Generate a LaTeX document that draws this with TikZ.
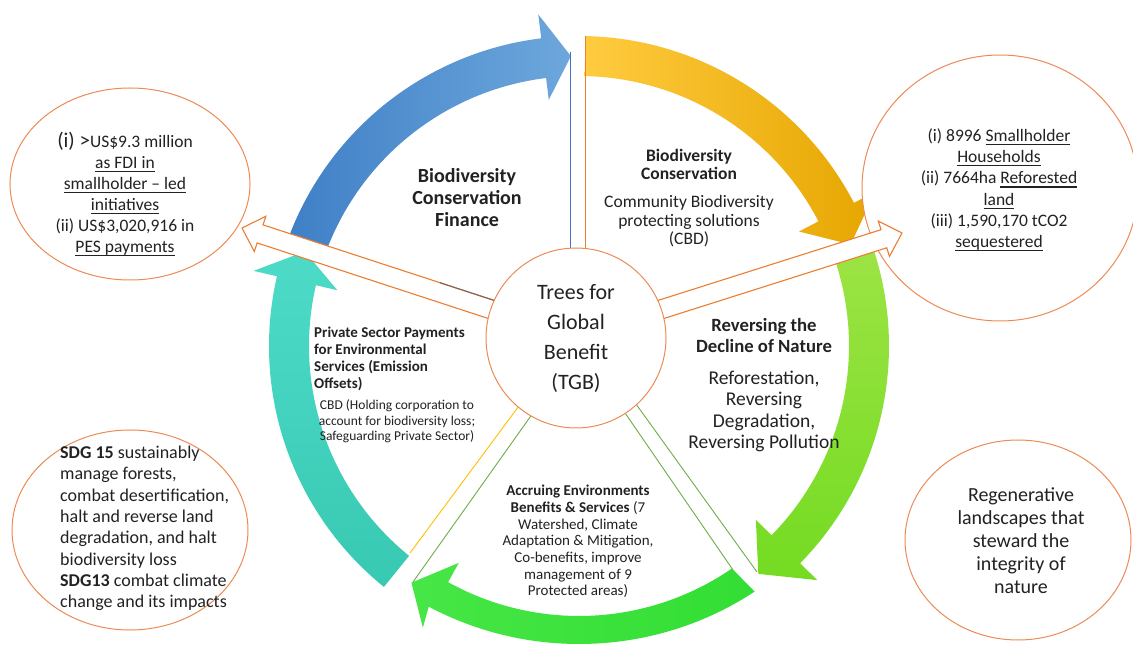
\documentclass[tikz,border=0pt]{standalone}
\usepackage{fontspec}
\setmainfont{Carlito}
\usetikzlibrary{shapes.geometric}

\definecolor{txt}{HTML}{222222}
\definecolor{edge}{HTML}{EC8B55}
\definecolor{blueD}{HTML}{3F7FC6}
\definecolor{blueL}{HTML}{6DA7DC}
\definecolor{goldL}{HTML}{FFCB40}
\definecolor{goldD}{HTML}{E6A600}
\definecolor{limeL}{HTML}{9EE445}
\definecolor{limeD}{HTML}{74DB22}
\definecolor{grnL}{HTML}{46E646}
\definecolor{grnD}{HTML}{33DE33}
\definecolor{tealL}{HTML}{4DDBC8}
\definecolor{tealD}{HTML}{38C9B2}
\definecolor{spokeBlue}{HTML}{4472C4}
\definecolor{spokeOrange}{HTML}{ED7D31}
\definecolor{spokeYellow}{HTML}{FFC000}
\definecolor{spokeGreen}{HTML}{70AD47}
\definecolor{seam}{HTML}{7A6A66}

% underlined word with a solid rule a little below the baseline
\newcommand{\uln}[1]{\setbox0\hbox{#1}\leavevmode\rlap{\rule[-3.6pt]{\wd0}{1.1pt}}\box0}

% curved band arrow on the ring: start angle, head base angle, tip angle, fill options
\newcommand{\ringarrow}[4]{%
  \path[#4] (#1:\Ro\space and \RoY) arc[start angle=#1, end angle=#2, x radius=\Ro, y radius=\RoY]
    -- (#2:\Hout) -- (#3:\Rm) -- (#2:\Hin) -- (#2:\Ri)
    arc[start angle=#2, end angle=#1, radius=\Ri] -- cycle;}

% straight block arrow, tip at the origin, pointing along +x
\newcommand{\blockarrow}{%
  \path[blockarrow] (0,0) -- (-19,18.5) -- (-19,9.5) -- (-290,9.5)
    -- (-290,-9.5) -- (-19,-9.5) -- (-19,-18.5) -- cycle;}

\tikzset{
  blockarrow/.style={draw=spokeOrange, line width=1.1pt, fill=white, line join=miter},
  bubble/.style={draw=edge, line width=1pt, fill=white, ellipse, inner sep=0pt},
  label/.style={text=txt, inner sep=0pt},
  spoke/.style={line width=0.9pt},
}

\begin{document}
\begin{tikzpicture}[x=1pt,y=1pt]
\useasboundingbox (0,0) rectangle (1133,646);
\clip (0,0) rectangle (1133,646);
\fill[white] (0,0) rectangle (1133,646);

% ---- cycle of five curved arrows ----
\begin{scope}[shift={(579,300)}]
  \def\Ro{310}\def\RoY{310}\def\Ri{270}\def\Rm{290}\def\Hout{334}\def\Hin{248}
  \ringarrow{161}{97}{91.6}{left color=blueD, right color=blueL}
  \ringarrow{88.8}{27.5}{20.5}{left color=goldL, right color=goldD}
  \ringarrow{20.5}{-44.5}{-51.8}{top color=limeL, bottom color=limeD}
  {\def\RoY{298}\def\Hout{322}
   \ringarrow{-55.5}{-119}{-125.3}{left color=grnL, right color=grnD}}
  \ringarrow{-129}{-193}{-199}{top color=tealL, bottom color=tealD}
\end{scope}

% ---- outer bubbles ----
\node[bubble, minimum width=240, minimum height=192] (finance) at (130,462) {};
\node[bubble, minimum width=276, minimum height=266] (impact) at (1000,458) {};
\node[bubble, minimum width=236, minimum height=200] (sdg) at (130,116) {};
\node[bubble, minimum width=226, minimum height=200] (regen) at (1018,106) {};

% ---- sector boundary lines ----
\draw[spoke, spokeBlue]   (570.5,594) -- (570.5,380);
\draw[spoke, spokeOrange] (585.5,610) -- (585.5,380);
\draw[spoke, spokeYellow] (530,255) -- (410,93);
\draw[spoke, spokeGreen]  (545,250) -- (413,64);
\draw[spoke, spokeGreen]  (612,252) -- (733,76);
\draw[spoke, spokeGreen]  (623,260) -- (757,74);

% ---- outward block arrows ----
\begin{scope}[shift={(242,418)}, rotate=161.9]
  \blockarrow
  \draw[seam, line width=1.1pt] (-205,-9.5) -- (-266,-9.5);
\end{scope}
\begin{scope}[shift={(902,413)}, rotate=17.6]
  \blockarrow
\end{scope}

% ---- centre ----
\node[circle, draw=edge, line width=1pt, fill=white, minimum size=180, inner sep=0pt,
      text=txt, align=center, font=\fontsize{22}{30}\selectfont] (tgb) at (576,308)
  {Trees for\\Global\\Benefit\\(TGB)};

% ---- sector texts ----
\node[label, align=center, font=\bfseries\fontsize{20}{22}\selectfont] (bcf) at (467,448)
  {Biodiversity\\Conservation\\Finance};

\node[label, align=center, font=\fontsize{17.5}{18.7}\selectfont] (bc) at (689,448)
  {\textbf{Biodiversity}\\\textbf{Conservation}\\[9pt]Community Biodiversity\\protecting solutions\\(CBD)};

\node[label, align=center, font=\fontsize{19.5}{21.5}\selectfont] (rev) at (764,261)
  {{\bfseries\fontsize{18.7}{22}\selectfont Reversing the}\\{\bfseries\fontsize{18.7}{22}\selectfont Decline of Nature}\\[10pt]Reforestation,\\Reversing\\Degradation,\\Reversing Pollution};

\node[label, align=left, anchor=west, font=\bfseries\fontsize{15}{17}\selectfont] (pes) at (314,287.5)
  {Private Sector Payments\\for Environmental\\Services (Emission\\Offsets)};
\node[label, align=center, font=\fontsize{13.5}{15.5}\selectfont] (cbd) at (397,224.5)
  {CBD (Holding corporation to\\account for biodiversity loss;\\Safeguarding Private Sector)};

\node[label, align=center, font=\fontsize{15}{16.7}\selectfont] (accr) at (578,104.5)
  {\textbf{Accruing Environments}\\\textbf{Benefits \& Services} (7\\Watershed, Climate\\Adaptation \& Mitigation,\\Co-benefits, improve\\management of 9\\Protected areas)};

% ---- bubble texts ----
\node[label, align=center, font=\fontsize{17.5}{21}\selectfont] (financetxt) at (125,451.5)
  {{\fontsize{21}{21}\selectfont (i) >}US\$9.3 million\\\uln{as FDI in}\\\uln{smallholder – led}\\\uln{initiatives}\\(ii) US\$3,020,916 in\\\uln{PES payments}};

\node[label, align=center, font=\fontsize{17.5}{21.3}\selectfont] (impacttxt) at (999,456)
  {(i) 8996 \uln{Smallholder}\\\uln{Households}\\(ii) 7664ha \uln{Reforested}\\\uln{land}\\(iii) 1,590,170 tCO2\\\uln{sequestered}};

\node[label, align=left, anchor=west, font=\fontsize{18}{21.3}\selectfont] (sdgtxt) at (60,117.5)
  {\textbf{SDG 15} sustainably\\manage forests,\\combat desertification,\\halt and reverse land\\degradation, and halt\\biodiversity loss\\\textbf{SDG13} combat climate\\change and its impacts};

\node[label, align=center, font=\fontsize{20}{23}\selectfont] (regentxt) at (1021,105)
  {Regenerative\\landscapes that\\steward the\\integrity of\\nature};
\end{tikzpicture}
\end{document}
